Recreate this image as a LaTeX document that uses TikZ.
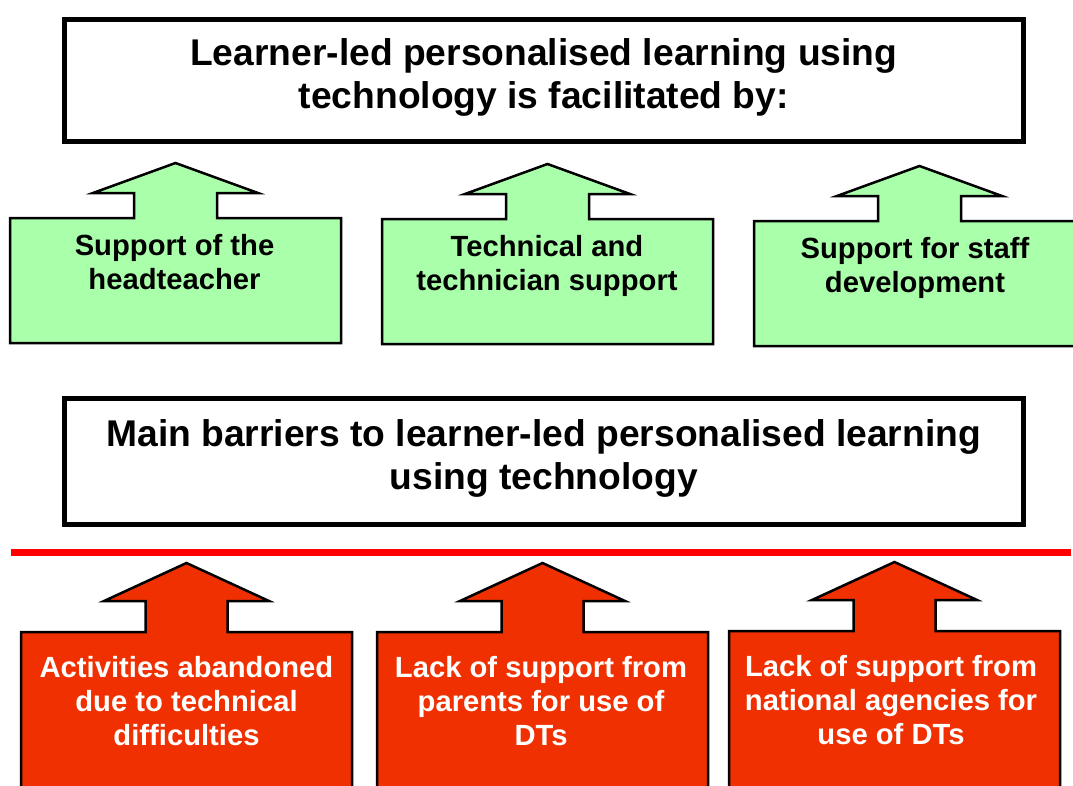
\documentclass[tikz,border=0pt]{standalone}
\usepackage{fontspec}
\setmainfont{Liberation Sans}
\usepackage{tikz}
\usetikzlibrary{calc,positioning,backgrounds}

\definecolor{callgreen}{RGB}{170,255,170}
\definecolor{callred}{RGB}{240,48,0}
\definecolor{barline}{RGB}{255,0,0}

\tikzset{
	headbox/.style={draw,line width=5pt,fill=white,align=center,inner sep=0pt,
		font=\fontsize{37.2}{43}\selectfont\bfseries},
	greencall/.style={draw,line width=2.5pt,fill=callgreen},
	redcall/.style={draw,line width=2.5pt,fill=callred},
	calltext/.style={anchor=north,align=center,inner sep=0pt,
		font=\fontsize{29.2}{34}\selectfont\bfseries},
}

\begin{document}
\begin{tikzpicture}[x=1pt,y=-1pt]
		\useasboundingbox (0,0) rectangle (1073,785);
		\clip (0,0) rectangle (1073,785);
		% facilitators
		\node(facil) [headbox,minimum width=959.5,minimum height=122,text depth=13pt] at (543.75,80.5)
			{Learner-led personalised learning using\\technology is facilitated by:};
		\foreach \n/\bx/\by/\tx/\txt in {g1/10/218/164.5/{Support of the\\headteacher},
				g2/382/219/165/{Technical and\\technician support},
				g3/754/221/161/{Support for staff\\development}}{
			\begin{scope}[shift={(\bx,\by)}]
				\draw[greencall] (0,0) -- (124,0) -- (124,-25) -- (83,-25) -- (165.5,-55) -- (248,-25)
					-- (207,-25) -- (207,0) -- (331,0) -- (331,125) -- (0,125) -- cycle;
				\node(\n) [calltext] at (\tx,16) {\txt};
			\end{scope}
		}
		% barriers
		\node(barriers) [headbox,minimum width=959.5,minimum height=126,text depth=13pt] at (543.75,461.5)
			{Main barriers to learner-led personalised learning\\using technology};
		\coordinate (barL) at (11,552);
		\coordinate (barR) at (1071,552);
		\draw[barline,line width=7pt] (barL) -- (barR);
		\foreach \n/\bx/\by/\tx/\txt in {r1/21/632/165.5/{Activities abandoned\\due to technical\\difficulties},
				r2/377/632/164/{Lack of support from\\parents for use of\\DTs},
				r3/729/631/162/{Lack of support from\\national agencies for\\use of DTs}}{
			\begin{scope}[shift={(\bx,\by)}]
				\draw[redcall] (0,0) -- (124.5,0) -- (124.5,-31) -- (83,-31) -- (165.5,-69) -- (248,-31)
					-- (206.5,-31) -- (206.5,0) -- (331,0) -- (331,200) -- (0,200) -- cycle;
				\node(\n) [calltext,text=white] at (\tx,24) {\txt};
			\end{scope}
		}
	\end{tikzpicture}
\end{document}
